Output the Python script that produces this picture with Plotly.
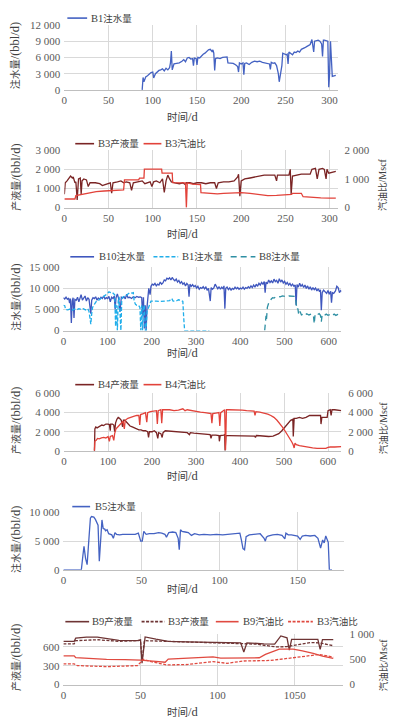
import re
import plotly.graph_objects as go

W, H = 394, 727
FONT = "'Liberation Serif', 'Times New Roman', 'Noto Sans CJK SC', serif"
TICK_C = "#595959"
TITLE_C = "#404040"

# ---------------- data ----------------
# Panel 1: B1 water injection (day, bbl/d)
b1_inj = [(88,0),(89,2300),(90,1500),(92,2400),(94,2600),(96,3000),(98,3200),(100,3300),(101,2200),(103,3000),
          (105,3400),(107,3600),(109,3700),(111,3900),(113,3500),(115,4000),(117,3700),(119,4100),(120,5000),(121,7200),
          (122,3700),(124,4800),(127,4900),(130,5000),(133,5300),(135,5600),(137,5200),(139,5900),(141,6000),(143,5700),
          (145,5800),(146,4500),(147,5900),(149,5800),(150,4600),(151,6000),(153,5900),(155,6300),(157,6600),(159,6800),
          (161,7200),(163,7400),(165,7500),(167,7100),(168,7400),(169,6800),(170,3600),(171,5800),(173,5900),(176,5800),
          (179,6000),(182,6100),(184,6100),(185,5000),(188,5000),(191,4900),(194,4600),(196,4300),(197,3300),(198,5000),
          (200,4800),(202,5000),(203,2800),(204,4900),(206,5000),(209,4700),(212,5100),(215,5300),(218,5200),(221,5300),
          (224,5100),(227,5000),(230,5000),(232,4800),(233,3800),(234,5100),(236,4900),(238,5000),(240,4500),(241,3800),
          (242,3000),(243,1500),(244,2500),(246,4500),(247,6800),(249,6600),(251,6500),(252,6600),(253,4800),(254,7000),
          (256,6800),(258,6500),(260,7000),(262,6900),(264,7200),(266,7000),(268,7500),(270,7600),(272,7800),(274,8000),
          (276,8200),(278,8400),(280,9300),(281,8000),(282,7000),(283,9000),(285,9100),(287,9200),(289,9000),(291,8500),
          (292,6200),(293,9200),(294,9200),(296,9100),(298,9000),(299,500),(300,3000),(301,9000),(302,6000),(303,2500),
          (305,2600),(307,2700)]

# Panel 2: B3 liquid production (left) and GOR (right)
b3_liq = [(0,700),(1,1300),(3,1400),(5,1500),(7,1650),(9,1550),(10,1600),(12,1300),(13,1350),(14.5,400),(16,1500),
          (18,1550),(19,700),(20,1400),(22,1500),(25,1450),(27,1100),(29,1300),(35,1300),(40,1250),(43,1150),(46,1200),
          (50,1250),(52,1300),(53.5,750),(55,1300),(60,1350),(64,1400),(67,1300),(70,1350),(74,1300),(76,900),(78,1300),
          (83,1350),(88,1400),(91,1250),(94,1300),(97,1350),(99,1100),(101,1350),(104,1400),(108,1300),(111,1500),
          (113,800),(115,1400),(117,1700),(119,1500),(121,1350),(125,1300),(130,1250),(134,1300),(137,1200),(138,1300),
          (142,1300),(146,1250),(150,1300),(155,1300),(160,1250),(165,1300),(170,1300),(172,1000),(174,1300),(180,1350),
          (186,1350),(192,1400),(196,1600),(197,1750),(198.5,600),(200,1400),(204,1500),(210,1550),(215,1600),(220,1650),
          (226,1700),(232,1700),(238,1700),(240,1400),(241,1700),(248,1700),(254,1700),(255.5,2000),(256.5,700),
          (258,1650),(262,1700),(268,1750),(274,1750),(278,1750),(280,2000),(284,2050),(286,1500),(288,2000),(292,2050),
          (294,2000),(296,1500),(297,2000),(299,1800),(303,1850),(307,1900)]
b3_gor = [(0,300),(12,300),(13,420),(20,470),(28,510),(36,560),(45,580),(55,600),(60,620),(67,620),(68,970),(84,970),
          (85,1030),(90,1030),(90.5,1340),(110,1340),(110.5,1200),(122,1200),(122.5,870),(137,860),(138,0),(139,860),
          (145,820),(154,800),(154.5,520),(165,500),(173,480),(180,500),(190,510),(200,520),(210,500),(220,470),
          (230,420),(240,430),(250,460),(257,460),(258,500),(265,510),(268,500),(270,380),(280,350),(290,340),
          (300,330),(307,330)]

# Panel 3: injection of B10, B1, B8
b10_inj = [(0,7800),(3,7500),(6,7900),(9,7400),(12,7700),(14,6500),(16,7600),(18,1800),(20,7000),(22,7800),(24,3000),
           (26,7400),(29,7200),(32,7900),(35,6800),(38,7600),(40,8500),(43,7200),(46,7800),(49,8200),(52,7000),(55,7800),
           (58,7400),(60,5500),(62,4000),(64,7200),(67,7800),(70,7600),(73,8000),(76,7200),(79,7700),(82,7400),(85,7900),
           (88,7600),(91,8200),(94,7500),(97,7800),(100,7600),(103,8100),(106,6800),(109,7900),(112,7600),(115,8200),
           (117,5000),(119,7800),(122,8700),(125,7500),(128,4500),(131,7900),(134,7700),(137,8000),(140,7500),(143,8600),
           (146,7800),(150,7900),(154,7600),(158,8000),(162,7800),(166,8100),(170,7900),(174,8000),(177,7800),(179,3500),
           (181,7900),(183,500),(185,6000),(187,0),(189,5500),(191,9000),(193,10000),(196,8500),(198,10500),(201,11000),
           (204,10800),(207,11200),(210,10600),(213,11000),(216,10800),(219,11500),(222,11000),(225,11300),(228,12000),
           (231,11800),(234,12400),(237,12200),(240,12500),(243,12000),(246,12600),(249,12100),(252,11800),(255,12200),
           (258,11500),(261,11900),(264,11200),(267,11600),(270,11000),(273,11300),(276,10600),(279,11200),(282,10800),
           (284,8000),(286,11000),(289,10500),(292,10900),(295,10400),(298,10700),(301,10100),(304,10500),(307,9800),
           (310,10200),(313,10000),(316,10400),(319,9900),(322,10300),(325,9600),(328,10000),(332,7000),(334,10200),
           (337,9800),(340,10100),(343,11000),(346,10500),(349,9900),(352,10400),(355,9800),(358,10300),(361,9900),
           (363,10600),(365,5200),(367,10000),(370,10300),(373,9700),(376,10100),(379,9600),(382,10000),(385,9800),
           (388,10300),(391,9900),(394,10200),(397,9800),(400,10100),(403,9900),(406,10300),(409,9800),(412,10200),
           (415,10000),(418,10400),(421,10100),(424,10600),(427,10200),(430,10800),(433,10300),(436,11000),(439,10500),
           (442,11200),(445,10800),(448,11400),(451,11000),(454,11600),(456,9000),(458,11500),(461,11100),(464,12000),
           (467,11400),(470,11800),(473,11300),(476,12200),(479,11600),(482,11900),(485,11200),(488,12300),(491,11500),
           (494,12000),(497,11300),(500,11700),(503,11000),(506,11400),(509,10800),(512,11200),(515,10600),(518,11000),
           (521,10500),(524,10800),(526,6000),(528,10900),(531,10300),(534,11200),(537,10500),(540,10900),(543,10200),
           (546,10800),(549,10000),(552,10600),(555,9800),(558,10400),(561,9600),(564,10200),(567,9700),(570,10100),
           (573,9400),(576,9900),(579,9200),(581,9700),(583,4800),(585,9000),(588,9600),(591,9200),(595,8800),(598,9500),
           (601,8600),(604,9300),(606,6600),(608,9000),(611,8800),(615,9400),(618,10500),(621,10200),(624,9000),
           (627,9500),(630,9200)]
b1_inj_long = [(0,6000),(3,5900),(5,5000),(10,4900),(15,5100),(20,4800),(25,5100),(30,4900),(35,5200),(40,5000),
               (45,5200),(50,4900),(55,5200),(58,4500),(60,3000),(62,1500),(64,4000),(66,5500),(70,6200),(75,7000),
               (80,7200),(85,7600),(90,8000),(95,8300),(100,8800),(103,9200),(106,9000),(110,9100),(113,8800),(116,8500),
               (118,1000),(120,6000),(122,0),(124,7000),(126,8000),(128,4000),(130,0),(132,7500),(135,8000),(140,8200),
               (145,8700),(150,9000),(155,8900),(158,9000),(160,7000),(163,6200),(166,6000),(170,6000),(173,5500),
               (175,0),(177,6000),(179,0),(181,5800),(183,6000),(185,0),(187,0),(189,4500),(192,5500),(195,6500),
               (198,7000),(210,7000),(220,6900),(230,7000),(240,7100),(245,7600),(248,7000),(255,7000),(260,7300),
               (265,7200),(270,6900),(272,3000),(274,0),(290,0),(310,0),(330,0)]
b8_inj = [(455,0),(456,2000),(458,3500),(459,2500),(461,5500),(464,6500),(467,6800),(470,7500),(473,7800),(476,7700),
          (480,8000),(485,8100),(490,8000),(495,8200),(500,8100),(505,8000),(510,8200),(515,8100),(520,8000),(524,8100),
          (526,6500),(528,5000),(530,5200),(532,3700),(535,4500),(538,3700),(542,3900),(546,3600),(550,4000),(555,3700),
          (560,3900),(565,3700),(567,1600),(569,3900),(573,3700),(578,4000),(581,3600),(583,2100),(585,3800),(590,3600),
          (594,3900),(598,3600),(603,3800),(608,3500),(612,3900),(616,3600),(620,3800),(625,3700),(630,3800)]

# Panel 4: B4 liquid production (left) and GOR (right)
b4_liq = [(68,0),(69,0),(70,2300),(72,2500),(75,2400),(78,2500),(82,2600),(86,2700),(90,2650),(95,2800),(100,2800),
          (103,2750),(105,2100),(106,2800),(110,2800),(113,2700),(115,2000),(117,2900),(120,3300),(123,3500),(126,3400),
          (130,3200),(133,2500),(135,3200),(138,3200),(142,3000),(146,2800),(150,2600),(155,2500),(160,2400),(165,2300),
          (170,2200),(175,2200),(180,2100),(185,2100),(190,2000),(192,1400),(194,2000),(200,2000),(205,2100),(210,1900),
          (213,1300),(215,1900),(220,1800),(223,1400),(225,1900),(230,2100),(240,2050),(250,2000),(260,1950),(270,1900),
          (280,1900),(285,1700),(287,1900),(295,1850),(305,1800),(315,1750),(325,1700),(332,1700),(334,1300),(336,1650),
          (345,1650),(352,1600),(353,1000),(355,1600),(363,1650),(365,1700),(366,0),(368,1600),(375,1600),(385,1600),
          (395,1600),(405,1580),(415,1560),(425,1550),(433,1550),(435,1400),(437,1600),(445,1580),(455,1520),(465,1500),
          (475,1550),(482,1650),(488,1800),(495,2100),(500,2400),(505,2700),(510,3000),(515,3200),(520,3300),(521,1500),
          (523,3400),(528,3400),(535,3500),(542,3400),(550,3500),(558,3700),(565,3700),(575,3700),(583,3700),(584,2800),
          (586,3500),(592,3500),(598,3500),(600,4200),(605,4300),(607,3700),(609,4300),(615,4300),(622,4250),(630,4200)]
b4_gor = [(68,0),(69,0),(70,1000),(73,1100),(76,1300),(80,1250),(85,1350),(90,1400),(95,1350),(100,1500),(103,1000),
          (105,1500),(110,1600),(113,1100),(115,1800),(118,2300),(122,2500),(126,2700),(130,3000),(134,3100),(137,2300),
          (139,3200),(145,3400),(150,3500),(158,3600),(165,3700),(170,3700),(172,2700),(174,3800),(180,3900),(185,4000),
          (188,3000),(190,4000),(196,4100),(205,4200),(210,4200),(212,2800),(214,4200),(220,4300),(222,2900),(224,4300),
          (230,4300),(240,4300),(250,4200),(260,4250),(270,4400),(275,4200),(280,4300),(290,4200),(300,4100),(310,4050),
          (320,4000),(330,3950),(334,3900),(336,2900),(338,3900),(345,3950),(352,4000),(354,2600),(356,4000),(362,4200),
          (365,4300),(367,100),(369,4300),(375,4300),(385,4300),(395,4300),(405,4250),(415,4200),(425,4200),(432,4150),
          (434,3700),(436,4100),(445,4050),(455,3950),(463,3850),(470,3700),(477,3500),(484,3200),(490,2900),(496,2500),
          (502,2100),(508,1700),(513,1300),(518,900),(521,600),(523,300),(525,800),(528,650),(535,550),(545,450),
          (555,350),(565,300),(575,250),(585,250),(595,250),(600,350),(605,400),(615,400),(630,450)]

# Panel 5: B5 water injection
b5_inj = [(0,0),(5,0),(10,0),(11.5,0),(12.5,2500),(13.2,4100),(14.2,2000),(15.2,900),(16.5,6000),(17.3,9000),(18,9300),
          (19.5,9200),(20.5,8800),(21.5,8300),(22.2,7800),(23,1500),(24,6000),(24.7,8700),(25.5,7200),(26.5,7100),
          (27,6800),(28,7000),(29,6300),(30,6200),(31,6100),(32,5500),(33,6500),(34,6200),(36,6100),(38,6200),(40,6200),
          (43,6300),(46,6200),(48,6400),(49.5,5000),(50.5,5000),(51.5,6700),(53,6200),(55,6300),(58,6300),(61,6500),
          (63,6400),(65,6200),(66,5700),(67.5,6500),(70,6600),(72,6500),(73.5,5500),(74.2,3500),(75,7000),(76,6700),
          (78,6600),(80,6500),(82,6000),(84,6300),(87,6100),(90,6200),(94,6100),(98,6200),(102,6100),(106,6200),
          (110,6300),(113,6400),(114,5200),(115,3700),(116,3500),(117,5800),(119,6100),(122,6200),(126,6300),
          (128.5,5500),(129.3,5000),(130,5700),(131,5900),(134,6100),(137,6200),(140,6000),(141.8,5400),(142.5,6400),
          (144,6100),(146,6100),(148,6000),(150,5900),(151.6,5300),(153,5900),(155,6000),(158,5900),(161,6000),
          (163,5500),(164.7,3800),(166,5200),(167,4700),(168,5900),(169,5200),(169.6,4800),(170.3,0),(172,0)]

# Panel 6: B9 / B3 liquid production (left) and GOR (right)
b9_liq6 = [(0,690),(7,690),(8,740),(15,755),(22,755),(30,730),(36,705),(48,700),(50,710),(51,340),(53,760),(60,725),
           (68,690),(80,680),(100,675),(115,665),(117,520),(119,665),(130,650),(137,645),(141,775),(145,745),
           (146.5,550),(148,720),(156,720),(165,720),(166.5,560),(168,715),(175,715)]
b3_liq6 = [(0,650),(7,650),(8,700),(15,710),(22,715),(30,700),(36,690),(48,700),(50,710),(51,380),(52.5,700),
           (60,695),(68,690),(85,680),(100,660),(115,655),(125,645),(132,620),(138,600),(145,605),(152,640),
           (160,670),(166,665),(170,640),(175,620)]
b9_gor6 = [(0,567),(7,567),(8,530),(15,515),(28,496),(40,490),(50,483),(58,460),(66,440),(68,503),(80,520),(91,541),
           (97,545),(102,522),(115,520),(127,528),(131,593),(140,696),(149,696),(155,665),(162,613),(168,560),(175,516)]
b3_gor6 = [(0,406),(7,406),(9,374),(20,360),(28,354),(40,365),(48,374),(52,497),(57,450),(67,387),(80,395),(97,451),
           (106,419),(117,464),(134,475),(149,528),(162,567),(166,593),(175,541)]

x_title = "时间/d"
inj_title = "注水量/(bbl/d)"
liq_title = "产液量/(bbl/d)"
gor_title = "汽油比/Mscf"

# ---------------- layout helpers ----------------
def xd(l, r):
    return [l / W, r / W]

def yd(t, b):
    return [1 - b / H, 1 - t / H]

def px(v):
    return v / W

def py(v):
    return 1 - v / H

tickfont = dict(family=FONT, size=11, color=TICK_C)

def xaxis(dom, rng, dtick, anchor, ticktext=None, tickvals=None):
    d = dict(domain=dom, range=rng, dtick=dtick, anchor=anchor, showgrid=True, gridcolor="#d9d9d9", gridwidth=1,
             showline=True, linecolor="#bfbfbf", linewidth=1, zeroline=False, ticks="", tickfont=tickfont,
             ticklen=0)
    if ticktext is not None:
        d.update(tickmode="array", tickvals=tickvals, ticktext=ticktext)
    return d

def yaxis(dom, rng, dtick, anchor, right=False, overlay=None):
    d = dict(domain=dom, range=rng, dtick=dtick, anchor=anchor, showgrid=not right, gridcolor="#d9d9d9",
             gridwidth=1, zeroline=False, showline=False, ticks="", tickformat=",d", tickfont=tickfont,
             ticklabelstandoff=6 if right else 3)
    if right:
        d.update(side="right", overlaying=overlay)
    return d

fig = go.Figure()

def add(series, name, color, xa, ya, dash="solid", width=1.3):
    fig.add_trace(go.Scatter(x=[p[0] for p in series], y=[p[1] for p in series], mode="lines", name=name,
                             line=dict(color=color, width=width, dash=dash), xaxis=xa, yaxis=ya,
                             showlegend=False, hoverinfo="skip"))

BLUE = "#4462C2"
DARK = "#7a2424"
RED = "#E2423A"
LBLUE = "#20AEEA"
TEAL = "#2E8FA3"
DARK6 = "#6e3434"
RED6 = "#E04A40"

add(b1_inj, "B1注水量", BLUE, "x", "y")
add(b3_liq, "B3产液量", DARK, "x2", "y2")
add(b3_gor, "B3汽油比", RED, "x2", "y3")
add(b10_inj, "B10注水量", "#3F57BE", "x3", "y4")
add(b1_inj_long, "B1注水量", LBLUE, "x3", "y4", dash="4px,2px")
add(b8_inj, "B8注水量", TEAL, "x3", "y4", dash="6px,4px")
add(b4_liq, "B4产液量", DARK, "x4", "y5")
add(b4_gor, "B4汽油比", RED, "x4", "y6")
add(b5_inj, "B5注水量", BLUE, "x5", "y7")
add(b9_liq6, "B9产液量", DARK6, "x6", "y8")
add(b3_liq6, "B3产液量", DARK6, "x6", "y8", dash="3px,1.5px")
add(b9_gor6, "B9汽油比", RED6, "x6", "y9")
add(b3_gor6, "B3汽油比", RED6, "x6", "y9", dash="3px,1.5px")

# panel geometry (px): left, right, top, bottom
P = {
    1: (62, 338, 19.3, 85.3),
    2: (62, 338, 146.7, 205),
    3: (61, 341.7, 265.7, 330),
    4: (61.7, 341.7, 394, 452.3),
    5: (61, 345, 515, 573.3),
    6: (61, 343, 638.3, 690),
}

lay = dict(
    xaxis=xaxis(xd(P[1][0], P[1][1]), [0, 309], 50, "y"),
    yaxis=yaxis(yd(P[1][2], P[1][3]), [0, 12000], 3000, "x"),
    xaxis2=xaxis(xd(P[2][0], P[2][1]), [0, 309], 50, "y2"),
    yaxis2=yaxis(yd(P[2][2], P[2][3]), [0, 3000], 1000, "x2"),
    yaxis3=yaxis(yd(P[2][2], P[2][3]), [0, 2000], 1000, "x2", right=True, overlay="y2"),
    xaxis3=xaxis(xd(P[3][0], P[3][1]), [0, 628], 100, "y4"),
    yaxis4=yaxis(yd(P[3][2], P[3][3]), [0, 15000], 5000, "x3"),
    xaxis4=xaxis(xd(P[4][0], P[4][1]), [0, 630], 100, "y5"),
    yaxis5=yaxis(yd(P[4][2], P[4][3]), [0, 6000], 2000, "x4"),
    yaxis6=yaxis(yd(P[4][2], P[4][3]), [0, 6000], 2000, "x4", right=True, overlay="y5"),
    xaxis5=xaxis(xd(P[5][0], P[5][1]), [0, 180], 50, "y7"),
    yaxis7=yaxis(yd(P[5][2], P[5][3]), [0, 10000], 5000, "x5"),
    xaxis6=xaxis(xd(P[6][0], P[6][1]), [0, 181], 50, "y8", ticktext=["0", "50", "100", "1050"],
                 tickvals=[0, 50, 100, 150]),
    yaxis8=yaxis(yd(P[6][2], P[6][3]), [0, 810], 300, "x6"),
    yaxis9=yaxis(yd(P[6][2], P[6][3]), [0, 1000], 500, "x6", right=True, overlay="y8"),
)

annotations = []
shapes = []

def mix(t, latin_size):
    # larger size for Latin runs so that they match the half-width look of the original
    return re.sub(r"([\x20-\x7e]+)", lambda m: '<span style="font-size:%spx">%s</span>' % (latin_size, m.group(1)), t)

def text(t, x, y, size=10, latin=12.5, angle=0, xanchor="center", color=TITLE_C):
    annotations.append(dict(text=mix(t, latin), x=px(x), y=py(y), xref="paper", yref="paper", showarrow=False,
                            xanchor=xanchor, yanchor="middle", textangle=angle,
                            font=dict(family=FONT, size=size, color=color)))

# axis titles
xt_y = {1: 112.7, 2: 232, 3: 353, 4: 478, 5: 592.5, 6: 718}
left_t = {1: inj_title, 2: liq_title, 3: inj_title, 4: liq_title, 5: inj_title, 6: liq_title}
for k, (l, r, t, b) in P.items():
    text(x_title, 181, xt_y[k], size=10.5, latin=12.5)
    text(left_t[k], 13, (t + b) / 2 - 2, size=10, latin=12.5, angle=-90)
for k in (2, 4, 6):
    l, r, t, b = P[k]
    text(gor_title, 384, (t + b) / 2 + 6, size=9.5, latin=10, angle=-90)

# legends (sample line + label)
def leg(x0, x1, xt, y, label, color, dash="solid"):
    shapes.append(dict(type="line", xref="paper", yref="paper", x0=px(x0), x1=px(x1), y0=py(y), y1=py(y),
                       line=dict(color=color, width=1.6, dash=dash)))
    text(label, xt, y, size=9.5, latin=10.5, xanchor="left")

leg(65, 85, 87, 12.3, "B1注水量", BLUE)
leg(73, 92, 94, 140, "B3产液量", DARK)
leg(142, 160, 162, 140, "B3汽油比", RED)
leg(68, 92, 95, 255, "B10注水量", "#3F57BE")
leg(152, 177, 179, 255, "B1注水量", LBLUE, "4px,2px")
leg(230, 255, 257, 255, "B8注水量", TEAL, "6px,4px")
leg(73, 92, 94, 385, "B4产液量", DARK)
leg(142, 160, 162, 385, "B4汽油比", RED)
leg(70, 88, 91, 509, "B5注水量", BLUE)
leg(63, 87, 88, 626, "B9产液量", DARK6)
leg(140, 163, 165, 626, "B3产液量", DARK6, "3px,1.5px")
leg(215, 238, 240, 626, "B9汽油比", RED6)
leg(288, 313, 315, 626, "B3汽油比", RED6, "3px,1.5px")

fig.update_layout(
    width=W, height=H, autosize=False,
    margin=dict(l=0, r=0, t=0, b=0),
    paper_bgcolor="white", plot_bgcolor="white",
    separators=". ",
    font=dict(family=FONT, size=11, color=TICK_C),
    annotations=annotations, shapes=shapes,
    showlegend=False,
    **lay,
)

# remove the default page margin so the 394x727 figure fills the window exactly
fig.write_html("out.html", config={"displayModeBar": False},
               post_script="document.body.style.margin='0';document.body.style.overflow='hidden';")
